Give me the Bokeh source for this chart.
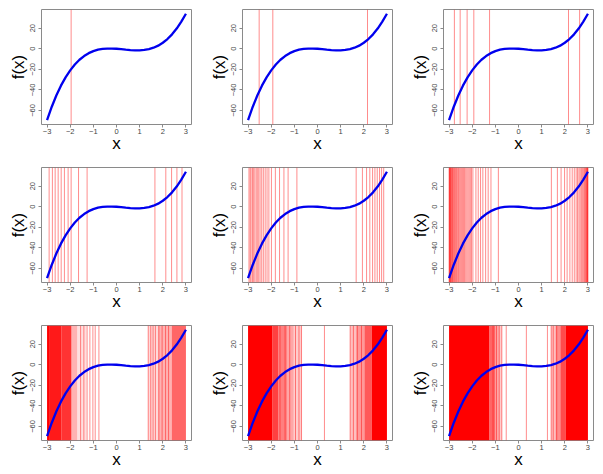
import numpy as np
from bokeh.plotting import figure
from bokeh.layouts import gridplot
from bokeh.models import Range1d, FixedTicker, ColumnDataSource
from bokeh.embed import file_html
from bokeh.resources import INLINE

# ---- curve f(x) ----
curve_x = [-3.0, -2.8, -2.6, -2.4, -2.2, -2.0, -1.8, -1.6, -1.4, -1.2, -1.0,
           -0.8, -0.6, -0.4, -0.2, 0.0, 0.2, 0.4, 0.6, 0.8, 1.0,
           1.2, 1.4, 1.6, 1.8, 2.0, 2.2, 2.4, 2.6, 2.8, 3.0]
curve_y = [-69.5, -56.6, -45.5, -35.9, -27.8, -21.0, -15.3, -10.7, -7.1, -4.3, -2.3,
           -0.9, -0.1, 0.2, 0.2, 0.0, -0.4, -0.85, -1.25, -1.5, -1.5,
           -1.15, -0.35, 1.0, 3.0, 5.8, 9.4, 14.0, 19.6, 26.4, 34.0]

x_ticks = [-3, -2, -1, 0, 1, 2, 3]
y_ticks = [-60, -40, -20, 0, 20]

# ---- sampled x positions (vertical red lines) per panel ----
lines_1 = [-1.96]
lines_2 = [-2.52, -1.93, 2.16]
lines_3 = [-2.77, -2.52, -2.22, -1.93, -1.25, 2.16, 2.64]
lines_4 = [-2.91, -2.77, -2.65, -2.52, -2.39, -2.25, -2.09, -1.96, -1.64, -1.27,
           1.66, 2.13, 2.38, 2.61, 2.83]
lines_5 = [-2.96, -2.91, -2.87, -2.81, -2.77, -2.71, -2.65, -2.60, -2.54, -2.48,
           -2.41, -2.34, -2.26, -2.18, -2.10, -1.99, -1.82, -1.64, -1.45, -1.27, -0.89,
           1.67, 1.94, 2.12, 2.26, 2.38, 2.48, 2.58, 2.68, 2.77, 2.86]
lines_6 = [-2.995, -2.985, -2.97, -2.955, -2.94, -2.92, -2.90, -2.875, -2.85, -2.83,
           -2.80, -2.77, -2.74, -2.71, -2.68, -2.64, -2.60, -2.57, -2.53, -2.49,
           -2.45, -2.41, -2.37, -2.33, -2.28, -2.23, -2.18, -2.13, -2.08, -2.03, -1.97,
           -1.84, -1.74, -1.64, -1.54, -1.42, -1.31, -1.19, -0.87,
           1.42, 1.68, 1.84, 1.99, 2.10, 2.22, 2.32, 2.41, 2.49, 2.55, 2.61, 2.66,
           2.71, 2.75, 2.79, 2.83, 2.86, 2.89, 2.92, 2.94, 2.96, 2.98, 2.99, 2.995]
lines_7 = [-1.55, -1.41, -1.27, -1.15, -1.02, -0.92, -0.76,
           1.37, 1.48, 1.58, 1.68, 1.83, 1.97, 2.12, 2.25]
lines_8 = [-1.62, -1.40, -1.20, -0.95, -0.80, -0.69, 0.30,
           1.41, 1.55, 1.72, 1.90]
lines_9 = [-1.10, -0.95, -0.83, -0.72, -0.53, 0.34, 1.25, 1.41, 1.50, 1.65]

# dense regions of the later panels: band edges and shading strength
band_lo_7 = [-3.0, -2.88, -2.38, -1.95, -1.70, 1.37, 1.80, 2.39]
band_hi_7 = [-2.88, -2.38, -1.95, -1.70, -1.30, 1.80, 2.39, 3.0]
band_a_7 = [1.0, 0.9, 0.8, 0.30, 0.12, 0.15, 0.30, 0.60]

band_lo_8 = [-3.0, -1.95, -1.70, -1.32, -1.03, 1.41, 1.67, 2.03, 2.35]
band_hi_8 = [-1.95, -1.70, -1.32, -1.03, -0.69, 1.67, 2.03, 2.35, 3.0]
band_a_8 = [1.0, 0.75, 0.50, 0.35, 0.20, 0.25, 0.40, 0.65, 1.0]

band_lo_9 = [-3.0, -1.27, -1.00, -0.83, 1.41, 1.60, 1.81, 2.03]
band_hi_9 = [-1.27, -1.00, -0.83, -0.72, 1.60, 1.81, 2.03, 3.0]
band_a_9 = [1.0, 0.60, 0.35, 0.20, 0.25, 0.45, 0.70, 1.0]

panel_lines = [lines_1, lines_2, lines_3, lines_4, lines_5, lines_6, lines_7, lines_8, lines_9]
panel_bands = [None] * 6 + [(band_lo_7, band_hi_7, band_a_7),
                            (band_lo_8, band_hi_8, band_a_8),
                            (band_lo_9, band_hi_9, band_a_9)]

# R-style 4% padded ranges
xmin, xmax = min(curve_x), max(curve_x)
ymin, ymax = min(curve_y), max(curve_y)
xpad = 0.04 * (xmax - xmin)
ypad = 0.04 * (ymax - ymin)
X0, X1 = xmin - xpad, xmax + xpad
Y0, Y1 = ymin - ypad, ymax + ypad

FONT = "Liberation Sans"
AX_COL = "#8a8a8a"

figs = []
for i in range(9):
    p = figure(width=201, height=158, x_range=Range1d(X0, X1), y_range=Range1d(Y0, Y1),
               output_backend="svg", toolbar_location=None,
               min_border_left=41, min_border_right=10,
               min_border_top=9, min_border_bottom=34,
               x_axis_label="x", y_axis_label="f(x)")
    p.background_fill_color = "white"
    p.border_fill_color = "white"
    p.outline_line_color = AX_COL
    p.outline_line_width = 1
    p.xgrid.visible = False
    p.ygrid.visible = False

    bands = panel_bands[i]
    if bands is not None:
        src = ColumnDataSource(dict(lo=bands[0], hi=bands[1], a=bands[2]))
        p.quad(left="lo", right="hi", bottom=Y0, top=Y1, source=src,
               fill_color="red", fill_alpha="a", line_color=None)
    xs = panel_lines[i]
    p.segment(x0=xs, y0=[Y0] * len(xs), x1=xs, y1=[Y1] * len(xs),
              line_color="red", line_alpha=0.45, line_width=1)

    p.line(curve_x, curve_y, line_color="#0000ee", line_width=2.3)

    for ax, ticks in ((p.xaxis[0], x_ticks), (p.yaxis[0], y_ticks)):
        ax.ticker = FixedTicker(ticks=ticks)
        ax.axis_line_color = None
        ax.major_tick_line_color = AX_COL
        ax.major_tick_in = 0
        ax.major_tick_out = 3
        ax.minor_tick_line_color = None
        ax.major_label_text_font = FONT
        ax.major_label_text_font_size = "7.5px"
        ax.major_label_text_color = "#444444"
        ax.axis_label_text_font = FONT
        ax.axis_label_text_font_size = "17px"
        ax.axis_label_text_font_style = "normal"
        ax.axis_label_text_color = "black"
    p.xaxis[0].major_label_standoff = 1
    p.xaxis[0].axis_label_standoff = -3
    p.yaxis[0].major_label_standoff = 3
    p.yaxis[0].axis_label_standoff = 0
    p.yaxis[0].major_label_orientation = "vertical"
    figs.append(p)

grid = gridplot([figs[0:3], figs[3:6], figs[6:9]], toolbar_location=None)

open("out.html", "w").write(file_html(grid, INLINE))
